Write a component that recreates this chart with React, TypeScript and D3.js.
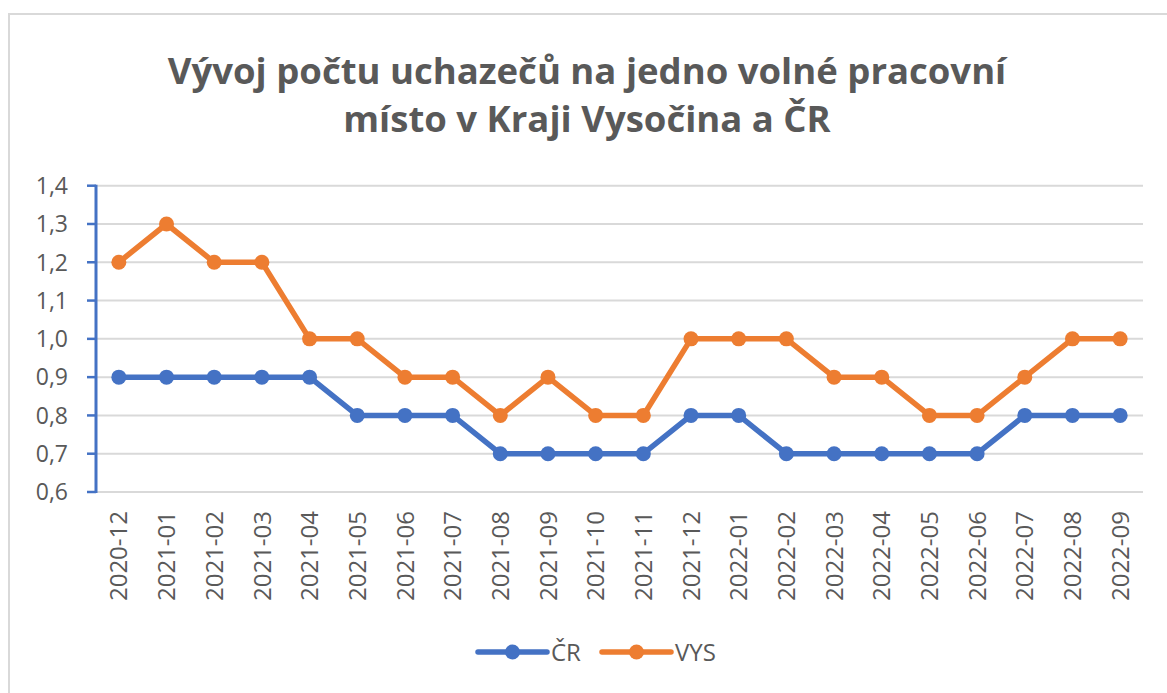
import React from "react";
import * as d3 from "d3";

const categories = [
  "2020-12", "2021-01", "2021-02", "2021-03", "2021-04", "2021-05", "2021-06",
  "2021-07", "2021-08", "2021-09", "2021-10", "2021-11", "2021-12", "2022-01",
  "2022-02", "2022-03", "2022-04", "2022-05", "2022-06", "2022-07", "2022-08", "2022-09",
];
const crValues = [0.9, 0.9, 0.9, 0.9, 0.9, 0.8, 0.8, 0.8, 0.7, 0.7, 0.7, 0.7, 0.8, 0.8, 0.7, 0.7, 0.7, 0.7, 0.7, 0.8, 0.8, 0.8];
const vysValues = [1.2, 1.3, 1.2, 1.2, 1.0, 1.0, 0.9, 0.9, 0.8, 0.9, 0.8, 0.8, 1.0, 1.0, 1.0, 0.9, 0.9, 0.8, 0.8, 0.9, 1.0, 1.0];
const yTicks = [0.6, 0.7, 0.8, 0.9, 1.0, 1.1, 1.2, 1.3, 1.4];
const seriesNames = ["ČR", "VYS"];
const titleLines = ["Vývoj počtu uchazečů na jedno volné pracovní", "místo v Kraji Vysočina a ČR"];

const W = 1167;
const H = 693;
const BLUE = "#4472C4";
const ORANGE = "#ED7D31";
const TEXT = "#595959";
const FONT = "'Open Sans', sans-serif";

export default function App() {
  const x = d3.scaleBand<string>().domain(categories).range([95, 1144]).padding(0);
  const cx = (c: string) => (x(c) as number) + x.bandwidth() / 2;
  const y = d3.scaleLinear().domain([0.6, 1.4]).range([492, 185.7]);
  const fmt = (v: number) => v.toFixed(1).replace(".", ",");

  const line = d3
    .line<number>()
    .x((_, i) => cx(categories[i]))
    .y((d) => y(d));

  const series = [
    { name: seriesNames[0], values: crValues, color: BLUE },
    { name: seriesNames[1], values: vysValues, color: ORANGE },
  ];

  const legendItems = [
    { name: seriesNames[0], color: BLUE, x0: 478 },
    { name: seriesNames[1], color: ORANGE, x0: 602 },
  ];

  return (
    <svg
      width={W}
      height={H}
      style={{ position: "absolute", left: 0, top: 0, background: "#fff" }}
      fontFamily={FONT}
    >
      <rect x={9} y={14} width={W + 20} height={H + 20} fill="#fff" stroke="#d9d9d9" strokeWidth={2} />
      {titleLines.map((t, i) => (
        <text
          key={i}
          x={587}
          y={84 + i * 48}
          textAnchor="middle"
          fontSize={36.5}
          fontWeight="bold"
          fill={TEXT}
        >
          {t}
        </text>
      ))}
      {yTicks.map((t) => (
        <g key={t}>
          <line x1={96} x2={1143} y1={y(t)} y2={y(t)} stroke="#d9d9d9" strokeWidth={2} />
          <line x1={87} x2={96} y1={y(t)} y2={y(t)} stroke={BLUE} strokeWidth={2.5} />
          <text x={68} y={y(t)} dy="0.36em" textAnchor="end" fontSize={23} fill={TEXT}>
            {fmt(t)}
          </text>
        </g>
      ))}
      <line x1={96} x2={96} y1={y(1.4) - 1} y2={y(0.6) + 1} stroke={BLUE} strokeWidth={3} />
      {categories.map((c) => (
        <text
          key={c}
          transform={`translate(${cx(c)},511) rotate(-90)`}
          dy="0.36em"
          textAnchor="end"
          fontSize={24}
          fill={TEXT}
        >
          {c}
        </text>
      ))}
      {series.map((s) => (
        <g key={s.name}>
          <path d={line(s.values) || ""} fill="none" stroke={s.color} strokeWidth={5.5} strokeLinejoin="round" />
          {s.values.map((v, i) => (
            <circle key={i} cx={cx(categories[i])} cy={y(v)} r={7.5} fill={s.color} />
          ))}
        </g>
      ))}
      {legendItems.map((l) => (
        <g key={l.name}>
          <line x1={l.x0} x2={l.x0 + 69} y1={652} y2={652} stroke={l.color} strokeWidth={5.5} strokeLinecap="round" />
          <circle cx={l.x0 + 34.5} cy={652} r={7.5} fill={l.color} />
          <text x={l.x0 + 73} y={652} dy="0.36em" fontSize={24} fill={TEXT}>
            {l.name}
          </text>
        </g>
      ))}
    </svg>
  );
}
